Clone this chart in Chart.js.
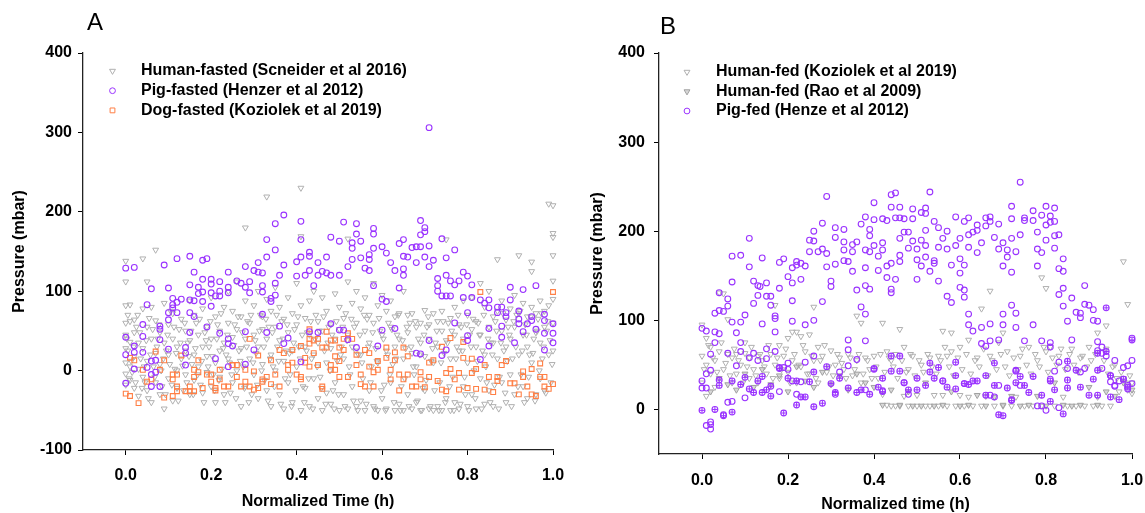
<!DOCTYPE html>
<html>
<head>
<meta charset="utf-8">
<script src="https://cdn.jsdelivr.net/npm/chart.js@4.4.1/dist/chart.umd.min.js"></script>
<style>
  body { margin: 0; background: #fff; }
  #wrapA { position: absolute; left: 0; top: 0; width: 565px; height: 513px; }
  #wrapB { position: absolute; left: 565px; top: 0; width: 580px; height: 513px; }
</style>
</head>
<body>
<div id="wrapA"><canvas id="chartA" width="565" height="513"></canvas></div>
<div id="wrapB"><canvas id="chartB" width="580" height="513"></canvas></div>
<script>
// ---- data ([normalized time, pressure mbar]) ----
const xTicks = [0, 0.2, 0.4, 0.6, 0.8, 1.0];
const yTicksA = [-100, 0, 100, 200, 300, 400];
const yTicksB = [0, 100, 200, 300, 400];

const labelsA = ['Human-fasted (Scneider et al 2016)', 'Pig-fasted (Henzer et al 2012)', 'Dog-fasted (Koziolek et al 2019)'];
const labelsB = ['Human-fed (Koziolek et al 2019)', 'Human-fed (Rao et al 2009)', 'Pig-fed (Henze et al 2012)'];

const humanFasted = [
  [0.00,138],[0.00,112],[0.00,82],[0.00,60],[0.00,45],[0.00,28],[0.00,10],[0.00,-4],[0.00,-18],[0.01,83],[0.01,62],[0.01,36],[0.01,5],[0.01,-12],
  [0.02,64],[0.02,48],[0.02,18],[0.02,-22],[0.03,35],[0.03,2],[0.03,-32],[0.04,141],[0.04,78],[0.04,28],[0.04,-8],[0.05,112],[0.05,55],[0.05,12],
  [0.05,-25],[0.06,80],[0.06,40],[0.06,-40],[0.07,152],[0.07,63],[0.07,22],[0.07,-15],[0.08,48],[0.08,8],[0.08,-30],[0.09,85],[0.09,35],[0.09,-48],
  [0.10,58],[0.10,20],[0.10,-10],[0.11,72],[0.11,40],[0.11,-38],[0.12,30],[0.12,0],[0.12,-22],[0.13,65],[0.13,15],[0.14,50],[0.14,25],[0.14,-5],
  [0.15,88],[0.15,38],[0.15,-30],[0.16,70],[0.16,20],[0.16,-12],[0.17,45],[0.17,5],[0.18,78],[0.18,30],[0.18,-28],[0.19,55],[0.19,18],[0.19,-2],
  [0.20,92],[0.20,40],[0.20,-20],[0.21,68],[0.21,10],[0.21,-40],[0.22,50],[0.22,25],[0.22,-8],[0.23,80],[0.23,35],[0.23,-30],[0.24,100],[0.24,60],
  [0.24,15],[0.25,75],[0.25,42],[0.25,-15],[0.26,112],[0.26,52],[0.26,0],[0.27,68],[0.27,28],[0.27,-45],[0.28,180],[0.28,88],[0.28,40],[0.28,-20],
  [0.29,60],[0.29,15],[0.30,82],[0.30,45],[0.30,-5],[0.31,100],[0.31,30],[0.31,-35],[0.32,68],[0.32,52],[0.32,8],[0.33,219],[0.33,90],[0.33,40],
  [0.33,-25],[0.34,75],[0.34,20],[0.34,-45],[0.35,105],[0.35,55],[0.35,0],[0.36,80],[0.36,38],[0.36,-30],[0.37,65],[0.37,12],[0.37,-48],[0.38,92],
  [0.38,48],[0.38,-15],[0.39,72],[0.39,25],[0.39,-40],[0.40,110],[0.40,58],[0.40,5],[0.41,230],[0.41,169],[0.41,82],[0.41,-50],[0.42,66],[0.42,30],
  [0.42,-22],[0.43,88],[0.43,45],[0.43,-45],[0.44,100],[0.44,20],[0.44,-10],[0.45,62],[0.45,35],[0.45,-35],[0.46,92],[0.46,50],[0.46,-50],[0.47,75],
  [0.47,10],[0.47,-28],[0.48,58],[0.48,28],[0.48,-42],[0.49,97],[0.49,40],[0.49,-15],[0.50,80],[0.50,52],[0.50,-50],[0.51,66],[0.51,15],[0.51,-30],
  [0.52,166],[0.52,112],[0.52,45],[0.52,-48],[0.53,85],[0.53,30],[0.53,-20],[0.54,100],[0.54,60],[0.54,-45],[0.55,78],[0.55,20],[0.55,-38],[0.56,92],
  [0.56,50],[0.56,-50],[0.57,70],[0.57,35],[0.57,-25],[0.58,110],[0.58,60],[0.58,-45],[0.59,82],[0.59,10],[0.59,-50],[0.60,95],[0.60,45],[0.60,-35],
  [0.61,75],[0.61,25],[0.61,-48],[0.62,88],[0.62,55],[0.62,-15],[0.63,68],[0.63,30],[0.63,-50],[0.64,72],[0.64,40],[0.64,-42],[0.65,100],[0.65,15],
  [0.65,-50],[0.66,70],[0.66,48],[0.66,-30],[0.67,72],[0.67,22],[0.67,-48],[0.68,55],[0.68,5],[0.68,-40],[0.69,60],[0.69,35],[0.69,-50],[0.70,76],
  [0.70,18],[0.70,-25],[0.71,58],[0.71,40],[0.71,-48],[0.72,72],[0.72,10],[0.72,-50],[0.73,62],[0.73,30],[0.73,-45],[0.74,75],[0.74,50],[0.74,-50],
  [0.75,165],[0.75,38],[0.75,-35],[0.76,66],[0.76,15],[0.76,-50],[0.77,80],[0.77,45],[0.77,-40],[0.78,58],[0.78,25],[0.78,-48],[0.79,88],[0.79,40],
  [0.79,-20],[0.80,70],[0.80,10],[0.80,-45],[0.81,92],[0.81,52],[0.81,-30],[0.82,62],[0.82,30],[0.82,-48],[0.83,110],[0.83,45],[0.83,-10],[0.84,80],
  [0.84,20],[0.84,-42],[0.85,100],[0.85,55],[0.85,-25],[0.86,68],[0.86,35],[0.86,-45],[0.87,140],[0.87,75],[0.87,15],[0.88,88],[0.88,50],[0.88,-15],
  [0.89,64],[0.89,30],[0.89,-40],[0.90,78],[0.90,40],[0.90,-5],[0.91,95],[0.91,55],[0.91,-30],[0.92,145],[0.92,72],[0.92,20],[0.93,85],[0.93,45],
  [0.93,-20],[0.94,68],[0.94,30],[0.94,-35],[0.95,137],[0.95,125],[0.95,80],[0.95,10],[0.96,72],[0.96,48],[0.96,-30],[0.97,88],[0.97,35],[0.97,-10],
  [0.98,75],[0.98,55],[0.98,-25],[0.99,210],[0.99,82],[0.99,20],[1.00,208],[1.00,173],[1.00,168],[1.00,145],[1.00,113],[1.00,90],[1.00,60],[1.00,25],
  [0.005,70],[0.005,25],[0.015,-2],[0.025,55],[0.035,15],[0.045,-15],[0.055,66],[0.065,5],[0.075,40],[0.085,-20],[0.095,25],[0.105,75],[0.115,2],
  [0.125,52],[0.135,-25],[0.145,35],[0.155,8],[0.165,60],[0.175,-18],[0.185,48],[0.195,30],[0.205,-5],[0.215,58],[0.225,2],[0.235,20],[0.245,-28],
  [0.255,58],[0.265,25],[0.275,5],[0.285,62],[0.295,-30],[0.305,22],[0.315,70],[0.325,-12],[0.335,55],[0.345,5],[0.355,30],[0.365,62],[0.375,25],
  [0.385,-5],[0.395,52],[0.405,30],[0.415,-20],[0.425,48],[0.435,15],[0.445,70],[0.455,-8],[0.465,25],[0.475,55],[0.485,-25],[0.495,12],[0.505,30],
  [0.515,72],[0.525,-5],[0.535,55],[0.545,20],[0.555,-10],[0.565,65],[0.575,5],[0.585,28],[0.595,50],[0.605,-18],[0.615,60],[0.625,8],[0.635,45],
  [0.645,-20],[0.655,28],[0.665,60],[0.675,-5],[0.685,40],[0.695,-22],[0.705,55],[0.715,12],[0.725,35],[0.735,-15],[0.745,22],[0.755,60],[0.765,-8],
  [0.775,30],[0.785,55],[0.795,-30],[0.805,45],[0.815,0],[0.825,60],[0.835,25],[0.845,-15],[0.855,35],[0.865,62],[0.875,-8],[0.885,25],[0.895,55],
  [0.905,15],[0.915,70],[0.925,-5],[0.935,58],[0.945,20],[0.955,40],[0.965,65],[0.975,15],[0.985,50],[0.995,-15],
  [0.003,40],[0.008,-10],[0.013,12],[0.018,30],[0.023,-15],[0.028,70],[0.033,48],[0.038,-22],[0.043,5],[0.048,38],[0.053,-35],[0.058,20],[0.063,52],
  [0.068,-8],[0.073,30],[0.078,58],[0.083,0],[0.088,15],[0.093,-30],[0.098,45],[0.103,8],[0.108,-18],[0.113,55],[0.118,22],[0.123,-38],[0.128,35],
  [0.133,6],[0.138,60],[0.143,-15],[0.148,18],[0.153,50],[0.158,-30],[0.163,28],[0.168,-5],[0.173,65],[0.178,12],[0.183,-40],[0.188,38],[0.193,5],
  [0.198,62],[0.203,18],[0.208,-25],[0.213,40],[0.218,-12],[0.223,72],[0.228,28],[0.233,-40],[0.238,45],[0.243,10],[0.248,-5],[0.253,32],[0.258,-35],
  [0.263,68],[0.268,12],[0.273,48],[0.278,-22],[0.283,30],[0.288,-40],[0.293,70],[0.298,10],[0.303,38],[0.308,-18],[0.313,50],[0.318,0],[0.323,30],
  [0.328,65],[0.333,-38],[0.338,15],[0.343,48],[0.348,-20],[0.353,70],[0.358,12],[0.363,-42],[0.368,40],[0.373,-10],[0.378,58],[0.383,22],[0.388,-45],
  [0.393,35],[0.398,-25],[0.403,68],[0.408,15],[0.413,45],[0.418,-40],[0.423,25],[0.428,-10],[0.433,62],[0.438,-48],[0.443,40],[0.448,5],[0.453,50],
  [0.458,-22],[0.463,68],[0.468,-42],[0.473,35],[0.478,0],[0.483,45],[0.488,-48],[0.493,62],[0.498,-30],[0.503,20],[0.508,55],[0.513,-45],[0.518,38],
  [0.523,5],[0.528,65],[0.533,-38],[0.538,25],[0.543,-50],[0.548,45],[0.553,10],[0.558,70],[0.563,-42],[0.568,30],[0.573,-15],[0.578,48],[0.583,-48],
  [0.588,12],[0.593,66],[0.598,-25],[0.603,40],[0.608,-50],[0.613,20],[0.618,-5],[0.623,52],[0.628,-40],[0.633,15],[0.638,70],[0.643,-50],[0.648,38],
  [0.653,-10],[0.658,55],[0.663,-45],[0.668,30],[0.673,5],[0.678,62],[0.683,-38],[0.688,20],[0.693,-50],[0.698,45],[0.703,-12],[0.708,68],[0.713,-45],
  [0.718,28],[0.723,-25],[0.728,50],[0.733,-50],[0.738,10],[0.743,62],[0.748,-40],[0.753,35],[0.758,-20],[0.763,50],[0.768,-50],[0.773,15],[0.778,70],
  [0.783,-42],[0.788,25],[0.793,-8],[0.798,58],[0.803,-50],[0.808,30],[0.813,65],[0.818,-35],[0.823,12],[0.828,45],[0.833,-48],[0.838,70],[0.843,5],
  [0.848,40],[0.853,-40],[0.858,20],[0.863,-18],[0.868,50],[0.873,-48],[0.878,35],[0.883,72],[0.888,-28],[0.893,12],[0.898,45],[0.903,-45],[0.908,62],
  [0.913,30],[0.918,-20],[0.923,75],[0.928,25],[0.933,-40],[0.938,45],[0.943,-8],[0.948,68],[0.953,22],[0.958,-38],[0.963,50],[0.968,0],[0.973,72],
  [0.978,30],[0.983,-28],[0.988,62],[0.993,38],[0.998,8]
];

const pigFasted = [
  [0.00,129],[0.02,130],[0.00,42],[0.00,20],[0.00,-16],[0.02,31],[0.02,23],[0.02,2],[0.04,43],[0.04,23],[0.04,58],[0.05,83],[0.06,103],[0.06,12],
  [0.05,4],[0.06,-5],[0.06,-20],[0.07,-2],[0.07,13],[0.08,39],[0.08,52],[0.08,56],[0.09,133],[0.10,27],[0.08,-20],[0.10,104],[0.10,73],[0.10,64],
  [0.11,79],[0.11,91],[0.11,83],[0.12,73],[0.12,141],[0.12,86],[0.13,90],[0.14,29],[0.14,22],[0.14,7],[0.15,89],[0.15,108],[0.15,144],[0.15,48],
  [0.15,73],[0.16,88],[0.16,68],[0.16,124],[0.17,105],[0.17,97],[0.18,115],[0.18,99],[0.18,139],[0.19,141],[0.18,87],[0.19,55],[0.20,81],[0.20,98],
  [0.20,109],[0.20,115],[0.21,94],[0.21,15],[0.22,47],[0.22,94],[0.22,100],[0.22,112],[0.24,98],[0.24,105],[0.24,40],[0.24,34],[0.24,124],[0.25,31],
  [0.24,5],[0.26,113],[0.27,110],[0.28,105],[0.28,49],[0.28,8],[0.28,131],[0.29,98],[0.29,112],[0.30,126],[0.30,26],[0.31,136],[0.31,124],[0.32,123],
  [0.32,107],[0.32,99],[0.32,71],[0.33,48],[0.33,143],[0.33,165],[0.34,91],[0.34,87],[0.35,152],[0.35,185],[0.35,110],[0.35,95],[0.36,120],[0.36,56],
  [0.37,196],[0.37,34],[0.37,133],[0.38,41],[0.40,137],[0.40,119],[0.41,188],[0.41,165],[0.41,11],[0.41,143],[0.42,120],[0.43,126],[0.43,49],[0.43,149],
  [0.43,144],[0.44,107],[0.45,136],[0.45,120],[0.45,48],[0.46,125],[0.47,143],[0.47,123],[0.48,120],[0.48,168],[0.48,59],[0.50,51],[0.50,120],[0.50,163],
  [0.51,187],[0.51,51],[0.52,131],[0.52,39],[0.53,161],[0.53,154],[0.53,140],[0.54,172],[0.54,185],[0.54,29],[0.55,142],[0.55,163],[0.56,129],[0.57,146],
  [0.57,126],[0.57,140],[0.58,107],[0.58,154],[0.58,172],[0.58,179],[0.59,31],[0.60,156],[0.60,51],[0.60,90],[0.61,148],[0.61,87],[0.62,136],[0.63,126],
  [0.63,53],[0.64,104],[0.64,160],[0.65,165],[0.65,128],[0.65,120],[0.65,144],[0.66,143],[0.68,136],[0.67,155],[0.68,22],[0.68,156],[0.69,21],[0.69,171],
  [0.69,156],[0.69,189],[0.70,180],[0.70,175],[0.70,143],[0.71,157],[0.71,131],[0.71,38],[0.71,306],[0.72,139],[0.73,116],[0.73,107],[0.73,100],[0.74,94],
  [0.74,19],[0.74,166],[0.75,142],[0.75,94],[0.75,120],[0.75,26],[0.76,113],[0.76,94],[0.77,60],[0.77,152],[0.77,108],[0.78,113],[0.79,124],[0.79,92],
  [0.80,73],[0.80,119],[0.80,38],[0.80,44],[0.81,108],[0.81,92],[0.83,14],[0.83,89],[0.84,85],[0.85,53],[0.85,89],[0.85,79],[0.85,31],[0.87,80],
  [0.87,73],[0.88,80],[0.88,42],[0.88,56],[0.89,68],[0.89,73],[0.90,105],[0.90,89],[0.91,35],[0.92,65],[0.92,59],[0.92,75],[0.93,102],[0.93,49],
  [0.94,59],[0.95,68],[0.95,63],[0.96,107],[0.96,52],[0.98,63],[0.98,26],[0.98,71],[0.98,47],[1.00,59],[1.00,47],[1.00,35]
];

const dogFasted = [
  [0.00,-29],[0.01,-32],[0.01,16],[0.02,13],[0.03,-41],[0.04,1],[0.05,-14],[0.06,-11],[0.07,24],[0.08,1],[0.09,-34],[0.09,13],[0.11,-32],[0.11,-5],
  [0.11,-11],[0.12,-5],[0.12,-20],[0.12,-26],[0.13,19],[0.14,-26],[0.15,-26],[0.15,-20],[0.16,-26],[0.16,1],[0.16,-8],[0.17,-2],[0.17,13],[0.18,-22],
  [0.19,-5],[0.20,-5],[0.20,-14],[0.21,-22],[0.21,-25],[0.22,1],[0.22,-11],[0.23,-20],[0.24,-20],[0.25,7],[0.25,7],[0.26,7],[0.26,-8],[0.27,-20],
  [0.28,1],[0.28,-14],[0.29,40],[0.29,-20],[0.30,-1],[0.30,-24],[0.31,19],[0.31,-22],[0.32,-11],[0.32,-14],[0.33,-8],[0.34,-17],[0.34,13],[0.35,-5],
  [0.36,-20],[0.36,26],[0.37,22],[0.38,7],[0.38,1],[0.39,26],[0.39,10],[0.40,-5],[0.41,-8],[0.41,31],[0.41,-11],[0.42,16],[0.42,10],[0.43,5],
  [0.43,40],[0.43,34],[0.43,52],[0.44,38],[0.44,22],[0.45,40],[0.45,7],[0.46,-23],[0.46,29],[0.46,-20],[0.47,49],[0.47,29],[0.48,38],[0.48,7],
  [0.48,1],[0.49,18],[0.49,38],[0.49,1],[0.50,-8],[0.50,29],[0.50,12],[0.51,40],[0.51,26],[0.52,-8],[0.52,47],[0.53,40],[0.54,20],[0.54,7],
  [0.55,-17],[0.55,-5],[0.56,-20],[0.56,26],[0.57,5],[0.57,22],[0.58,-2],[0.58,-20],[0.59,1],[0.59,12],[0.61,16],[0.61,29],[0.62,1],[0.62,-11],
  [0.63,13],[0.63,23],[0.64,-5],[0.64,-25],[0.65,-11],[0.65,29],[0.66,-5],[0.66,18],[0.67,-20],[0.68,-20],[0.69,-2],[0.69,-11],[0.70,-21],[0.71,10],
  [0.71,-8],[0.72,13],[0.73,-13],[0.74,30],[0.74,-24],[0.75,-26],[0.75,-3],[0.76,41],[0.76,2],[0.77,-11],[0.78,-24],[0.78,-3],[0.79,36],[0.79,16],
  [0.80,-22],[0.81,15],[0.81,-3],[0.82,2],[0.82,-23],[0.83,99],[0.84,-24],[0.84,7],[0.85,-8],[0.86,-27],[0.87,-8],[0.87,-13],[0.88,7],[0.89,12],
  [0.90,-16],[0.91,-16],[0.92,-30],[0.93,-8],[0.93,-1],[0.94,-20],[0.95,2],[0.95,-30],[0.96,-32],[0.97,-8],[0.97,9],[0.98,-20],[0.98,-8],[0.99,-23],
  [1.00,99],[1.00,-17]
];

const humanFedKoziolek = [
  [0.00,95],[0.00,60],[0.00,30],[0.01,80],[0.01,50],[0.01,15],[0.02,70],[0.02,40],[0.03,55],[0.03,25],[0.04,131],[0.04,65],[0.05,130],[0.05,45],
  [0.06,101],[0.06,62],[0.07,58],[0.07,30],[0.08,62],[0.08,40],[0.09,50],[0.10,63],[0.10,75],[0.11,58],[0.11,35],[0.12,45],[0.13,60],[0.13,30],
  [0.14,55],[0.15,40],[0.16,62],[0.17,117],[0.17,50],[0.18,72],[0.18,35],[0.19,60],[0.20,80],[0.20,42],[0.21,87],[0.21,55],[0.22,87],[0.22,30],
  [0.23,82],[0.23,48],[0.24,65],[0.25,84],[0.25,40],[0.26,115],[0.26,55],[0.27,70],[0.27,30],[0.28,60],[0.29,42],[0.30,66],[0.31,50],[0.32,58],
  [0.33,45],[0.34,62],[0.35,38],[0.36,105],[0.36,55],[0.37,97],[0.37,30],[0.38,58],[0.39,45],[0.40,60],[0.41,35],[0.42,97],[0.42,17],[0.43,65],
  [0.43,5],[0.44,55],[0.44,4],[0.45,62],[0.45,4],[0.46,90],[0.46,4],[0.47,70],[0.47,15],[0.48,45],[0.48,4],[0.49,60],[0.50,4],[0.50,16],[0.51,50],
  [0.52,4],[0.53,58],[0.53,4],[0.54,16],[0.55,60],[0.55,4],[0.56,88],[0.56,16],[0.57,60],[0.57,4],[0.58,86],[0.58,65],[0.59,4],[0.60,70],[0.60,16],
  [0.61,4],[0.62,78],[0.62,14],[0.63,4],[0.64,58],[0.65,113],[0.65,4],[0.66,15],[0.67,133],[0.67,60],[0.68,4],[0.69,75],[0.70,86],[0.70,4],[0.71,65],
  [0.72,4],[0.73,14],[0.74,60],[0.75,4],[0.76,70],[0.77,4],[0.78,55],[0.79,148],[0.79,4],[0.80,136],[0.80,65],[0.81,70],[0.82,4],[0.83,60],[0.84,14],
  [0.85,4],[0.86,68],[0.87,4],[0.88,58],[0.89,4],[0.90,70],[0.91,4],[0.92,86],[0.92,14],[0.93,4],[0.94,94],[0.94,68],[0.95,4],[0.96,50],[0.97,20],
  [0.98,166],[0.98,35],[0.99,118],[0.99,22],[1.00,30],[1.00,18],
  [0.005,45],[0.015,72],[0.025,58],[0.035,42],[0.045,75],[0.055,52],[0.065,38],[0.075,68],[0.085,55],[0.095,30],[0.105,48],[0.115,70],[0.125,38],
  [0.135,62],[0.145,48],[0.155,72],[0.165,35],[0.175,58],[0.185,45],[0.195,68],[0.205,30],[0.215,62],[0.225,50],[0.235,72],[0.245,40],[0.255,60],
  [0.265,35],[0.275,55],[0.285,72],[0.295,48],[0.305,38],[0.315,62],[0.325,52],[0.335,35],[0.345,58],[0.355,45],[0.365,62],[0.375,40],[0.385,55],
  [0.395,35],[0.405,48],[0.415,62],[0.425,42],[0.435,58],[0.445,48],[0.455,35],[0.465,55],[0.475,42],[0.485,62],[0.495,38],[0.505,55],[0.515,42],
  [0.525,62],[0.535,48],[0.545,40],[0.555,55],[0.565,70],[0.575,48],[0.585,38],[0.595,58],[0.605,45],[0.615,62],[0.625,40],[0.635,55],[0.645,48],
  [0.655,68],[0.665,38],[0.675,55],[0.685,45],[0.695,62],[0.705,48],[0.715,38],[0.725,58],[0.735,45],[0.745,68],[0.755,50],[0.765,40],[0.775,62],
  [0.785,48],[0.795,70],[0.805,42],[0.815,58],[0.825,50],[0.835,68],[0.845,45],[0.855,62],[0.865,50],[0.875,42],[0.885,60],[0.895,48],[0.905,55],
  [0.915,62],[0.925,45],[0.935,55],[0.945,40],[0.955,48],[0.965,35],[0.975,42],[0.985,30],[0.995,38]
];

const humanFedRao = [
  [0.02,20],[0.04,35],[0.06,28],[0.08,22],[0.10,40],[0.12,25],[0.14,45],[0.16,28],[0.18,38],[0.20,20],[0.22,48],[0.24,32],[0.26,25],[0.28,42],
  [0.30,28],[0.32,38],[0.34,22],[0.36,40],[0.38,30],[0.40,25],[0.42,5],[0.44,22],[0.46,5],[0.48,20],[0.49,4],[0.51,4],[0.52,30],[0.54,4],[0.56,5],
  [0.58,20],[0.60,4],[0.62,5],[0.64,16],[0.66,4],[0.68,14],[0.70,5],[0.72,15],[0.74,4],[0.76,5],[0.78,15],[0.80,4],[0.82,30],[0.84,5],[0.86,4],
  [0.88,5],[0.90,25],[0.92,5],[0.94,20],[0.96,15],[0.98,30],[1.00,22]
];

const pigFed = [
  [0.00,91],[0.01,88],[0.03,87],[0.04,85],[0.02,62],[0.03,75],[0.03,108],[0.04,111],[0.04,131],[0.05,110],[0.06,124],[0.06,116],[0.07,98],[0.07,143],
  [0.07,172],[0.08,86],[0.09,173],[0.09,65],[0.09,75],[0.09,98],[0.10,106],[0.11,192],[0.11,160],[0.12,119],[0.12,144],[0.13,128],[0.13,139],[0.135,138],
  [0.14,96],[0.14,170],[0.15,127],[0.15,142],[0.16,117],[0.16,127],[0.17,105],[0.17,102],[0.17,87],[0.18,136],[0.18,165],[0.19,169],[0.20,149],[0.21,159],
  [0.21,122],[0.21,142],[0.21,99],[0.22,166],[0.22,162],[0.23,146],[0.23,164],[0.24,161],[0.24,95],[0.25,177],[0.25,190],[0.26,189],[0.26,200],[0.26,100],
  [0.27,177],[0.28,209],[0.28,180],[0.29,175],[0.29,239],[0.29,160],[0.30,138],[0.30,144],[0.28,121],[0.31,204],[0.31,193],[0.31,163],[0.33,188],[0.33,202],
  [0.33,179],[0.33,167],[0.34,166],[0.34,78],[0.34,67],[0.35,155],[0.35,177],[0.35,185],[0.36,188],[0.36,134],[0.36,56],[0.37,208],[0.37,115],[0.38,159],
  [0.38,179],[0.38,216],[0.38,107],[0.39,177],[0.38,139],[0.39,135],[0.38,77],[0.39,202],[0.39,195],[0.40,184],[0.40,232],[0.40,213],[0.41,156],[0.41,172],
  [0.42,187],[0.42,179],[0.42,214],[0.43,212],[0.43,161],[0.43,148],[0.44,241],[0.44,227],[0.44,135],[0.44,131],[0.44,164],[0.45,215],[0.45,243],[0.45,146],
  [0.46,227],[0.46,192],[0.46,215],[0.46,173],[0.46,166],[0.47,214],[0.47,199],[0.48,181],[0.48,199],[0.49,189],[0.49,225],[0.49,214],[0.50,180],[0.50,168],
  [0.50,146],[0.51,221],[0.51,161],[0.51,190],[0.52,220],[0.52,184],[0.52,226],[0.52,201],[0.52,171],[0.53,244],[0.53,155],[0.54,167],[0.54,211],[0.54,164],
  [0.55,144],[0.55,182],[0.55,204],[0.56,192],[0.57,200],[0.57,127],[0.57,180],[0.58,162],[0.58,120],[0.59,216],[0.59,184],[0.60,169],[0.60,192],[0.60,153],
  [0.60,137],[0.61,126],[0.61,211],[0.61,134],[0.61,162],[0.62,107],[0.62,196],[0.62,182],[0.62,215],[0.62,95],[0.63,199],[0.63,88],[0.64,176],[0.64,201],
  [0.64,207],[0.65,187],[0.65,74],[0.65,92],[0.66,215],[0.66,71],[0.66,206],[0.67,211],[0.67,216],[0.67,96],[0.67,77],[0.68,193],[0.69,180],[0.69,78],
  [0.69,208],[0.70,187],[0.70,161],[0.70,95],[0.70,107],[0.71,179],[0.71,171],[0.72,117],[0.72,192],[0.72,154],[0.72,228],[0.72,214],[0.73,177],[0.73,108],
  [0.73,92],[0.74,255],[0.74,196],[0.75,77],[0.75,215],[0.75,212],[0.77,212],[0.77,223],[0.77,95],[0.78,180],[0.78,199],[0.78,161],[0.79,77],[0.79,176],
  [0.79,218],[0.80,190],[0.80,228],[0.80,207],[0.81,70],[0.81,217],[0.81,75],[0.81,210],[0.82,195],[0.82,226],[0.82,211],[0.82,181],[0.83,196],[0.83,158],
  [0.83,53],[0.83,129],[0.84,169],[0.84,136],[0.84,116],[0.84,155],[0.85,99],[0.86,125],[0.86,78],[0.87,109],[0.88,103],[0.88,108],[0.89,139],[0.89,118],
  [0.90,117],[0.91,112],[0.91,100],[0.92,99],[0.92,76],[0.93,70],[0.92,66],[0.93,63],[0.94,60],[0.95,38],[0.96,55],[0.98,47],[0.99,49],[1.00,80],
  [1.00,55],[1.00,29],
  [0.00,32],[0.00,24],[0.01,24],[0.01,40],[0.02,44],[0.01,-18],[0.02,-17],[0.02,-22],[0.02,-14],[0.06,8],[0.07,9],[0.05,-6],[0.06,63],[0.08,49],
  [0.10,13],[0.11,58],[0.12,63],[0.13,55],[0.15,57],[0.15,68],[0.17,65],[0.18,20],[0.18,47],[0.19,47],[0.20,52],[0.20,45],[0.21,32],[0.22,17],
  [0.23,31],[0.24,53],[0.26,60],[0.31,17],[0.32,42],[0.34,49],[0.38,22],[0.40,45],[0.42,21],[0.47,30],[0.48,17],[0.56,32],[0.61,29],[0.67,16],
  [0.68,14],[0.69,27],[0.72,11],[0.73,44],[0.74,27],[0.78,4],[0.79,4],[0.80,-1],[0.81,34],[0.82,43],[0.83,2],[0.85,46],[0.88,42],[0.89,46],
  [0.93,46],[0.95,31],[0.96,26],[0.96,27],[0.97,32],[0.98,34],[0.99,27],[0.99,23]
];

const pigFedCrossed = [
  [0.00,-1],[0.03,0],[0.04,27],[0.04,33],[0.05,-7],[0.07,-3],[0.07,32],[0.09,28],[0.10,36],[0.11,23],[0.12,19],[0.13,32],[0.14,37],[0.14,19],
  [0.15,22],[0.16,15],[0.16,26],[0.18,46],[0.19,-4],[0.20,35],[0.22,32],[0.22,5],[0.23,14],[0.24,14],[0.25,31],[0.26,42],[0.26,3],[0.28,7],
  [0.29,48],[0.30,29],[0.31,19],[0.32,35],[0.34,24],[0.36,19],[0.37,22],[0.39,17],[0.40,46],[0.41,25],[0.42,20],[0.42,35],[0.44,60],[0.44,43],
  [0.46,60],[0.46,43],[0.47,30],[0.48,22],[0.50,22],[0.50,35],[0.53,52],[0.53,42],[0.52,27],[0.54,35],[0.55,47],[0.56,32],[0.57,25],[0.59,23],
  [0.59,38],[0.59,53],[0.61,29],[0.62,28],[0.63,32],[0.64,32],[0.66,38],[0.66,16],[0.68,52],[0.68,27],[0.69,-6],[0.70,-7],[0.71,24],[0.72,10],
  [0.73,30],[0.73,43],[0.74,37],[0.75,27],[0.76,19],[0.77,37],[0.79,16],[0.81,9],[0.81,32],[0.82,22],[0.84,-5],[0.85,24],[0.85,33],[0.85,54],
  [0.87,44],[0.88,25],[0.91,34],[0.90,16],[0.92,16],[0.92,44],[0.92,63],[0.94,65],[0.94,114],[0.95,14],[0.95,38],[0.97,11],[0.98,34],[0.99,25],
  [1.00,78]
];

// ---- styling ----
const GRAY = '#b0b0b0';
const GRAY_DARK = '#a0a0a0';
const PURPLE = '#9a33ff';
const ORANGE = '#ff7f45';
const FONT = "'Liberation Sans', Arial, Helvetica, sans-serif";

function pts(pairs) {
  return pairs.map(p => ({ x: p[0], y: p[1] }));
}

function tri(label, pairs, color, fill, order) {
  return {
    label: label, data: pts(pairs), order: order, clip: false,
    pointStyle: 'triangle', pointRotation: 180, pointRadius: 3.4, pointHoverRadius: 3.4,
    borderColor: color, backgroundColor: fill, pointBorderWidth: 1
  };
}

function circ(label, pairs, order) {
  return {
    label: label, data: pts(pairs), order: order, clip: false,
    pointStyle: 'circle', pointRadius: 2.9, pointHoverRadius: 2.9,
    borderColor: PURPLE, backgroundColor: 'rgba(0,0,0,0)', pointBorderWidth: 1.1
  };
}

// draws the panel letter and the legend inside the plot area
const panelDecor = {
  id: 'panelDecor',
  afterDraw(chart, args, opts) {
    const ctx = chart.ctx;
    ctx.save();
    ctx.fillStyle = '#000';
    ctx.font = '24px ' + FONT;
    ctx.textAlign = 'left';
    ctx.textBaseline = 'middle';
    ctx.fillText(opts.letter, opts.letterX, opts.letterY);

    ctx.font = 'bold 16px ' + FONT;
    opts.items.forEach((idx, i) => {
      const ds = chart.data.datasets[idx];
      const y = opts.legendY + i * opts.rowGap;
      ctx.strokeStyle = ds.borderColor;
      ctx.fillStyle = ds.backgroundColor;
      ctx.lineWidth = 1;
      Chart.helpers.drawPoint(ctx, {
        pointStyle: ds.pointStyle, rotation: ds.pointRotation || 0,
        radius: ds.pointRadius, borderWidth: 1
      }, opts.markerX, y);
      ctx.fillStyle = '#000';
      ctx.fillText(ds.label, opts.textX, y);
    });
    ctx.restore();
  }
};

function makeOptions(yMin, yTicks, geom) {
  return {
    responsive: false,
    animation: false,
    events: [],
    layout: { padding: { top: 53, right: geom.padRight, left: 0, bottom: 0 } },
    plugins: {
      legend: { display: false },
      tooltip: { enabled: false },
      panelDecor: geom.decor
    },
    scales: {
      x: {
        type: 'linear', min: -0.1, max: 1.0,
        afterBuildTicks: s => { s.ticks = xTicks.map(v => ({ value: v })); },
        afterFit: s => { s.height = geom.xHeight; s.paddingLeft = 0; s.paddingRight = 0; },
        grid: { drawOnChartArea: false, drawTicks: true, tickLength: 5, color: '#000' },
        border: { display: true, color: '#222', width: 1.3 },
        ticks: {
          color: '#000', padding: geom.xTickPad, maxRotation: 0,
          font: { family: FONT, size: 16, weight: 'bold' },
          callback: v => Number(v).toFixed(1)
        },
        title: {
          display: true, text: geom.xTitle, color: '#000',
          font: { family: FONT, size: 16, weight: 'bold', lineHeight: 1 },
          padding: { top: 0, bottom: geom.xTitlePad }
        }
      },
      y: {
        type: 'linear', min: yMin, max: 400,
        afterBuildTicks: s => { s.ticks = yTicks.map(v => ({ value: v })); },
        afterFit: s => { s.width = geom.yWidth; s.paddingTop = 0; s.paddingBottom = 0; },
        grid: { drawOnChartArea: false, drawTicks: true, tickLength: 5, color: '#000' },
        border: { display: true, color: '#222', width: 1.3 },
        ticks: {
          color: '#000', padding: geom.yTickPad,
          font: { family: FONT, size: 16, weight: 'bold' }
        },
        title: {
          display: true, text: 'Pressure (mbar)', color: '#000',
          font: { family: FONT, size: 16, weight: 'bold', lineHeight: 1 },
          padding: { top: geom.yTitlePad, bottom: 0 }
        }
      }
    }
  };
}

new Chart(document.getElementById('chartA'), {
  type: 'scatter',
  data: {
    datasets: [
      tri(labelsA[0], humanFasted, GRAY, 'rgba(0,0,0,0)', 3),
      circ(labelsA[1], pigFasted, 1),
      {
        label: labelsA[2], data: pts(dogFasted), order: 2, clip: false,
        pointStyle: 'rect', pointRadius: 3.4, pointHoverRadius: 3.4,
        borderColor: ORANGE, backgroundColor: 'rgba(0,0,0,0)', pointBorderWidth: 1.1
      }
    ]
  },
  options: makeOptions(-100, yTicksA, {
    padRight: 12, xHeight: 63, yWidth: 83, xTickPad: 11, yTickPad: 6,
    xTitle: 'Normalized Time (h)', xTitlePad: 3, yTitlePad: 12,
    decor: { letter: 'A', letterX: 87, letterY: 23, items: [0, 1, 2],
             markerX: 112.5, textX: 141, legendY: 71, rowGap: 19.7 }
  }),
  plugins: [panelDecor]
});

new Chart(document.getElementById('chartB'), {
  type: 'scatter',
  data: {
    datasets: [
      tri(labelsB[0], humanFedKoziolek, GRAY, 'rgba(0,0,0,0)', 4),
      tri(labelsB[1], humanFedRao, GRAY_DARK, 'rgba(200,200,200,0.7)', 3),
      circ(labelsB[2], pigFed, 1),
      circ('Pig-fed (crossed)', pigFedCrossed, 2),
      {
        label: 'cross', data: pts(pigFedCrossed), order: 0, clip: false,
        pointStyle: 'cross', pointRadius: 2.9, pointHoverRadius: 2.9,
        borderColor: PURPLE, pointBorderWidth: 1
      }
    ]
  },
  options: makeOptions(-50, yTicksB, {
    padRight: 13, xHeight: 59, yWidth: 94, xTickPad: 12, yTickPad: 9,
    xTitle: 'Normalized time (h)', xTitlePad: 0, yTitlePad: 25,
    decor: { letter: 'B', letterX: 95, letterY: 27, items: [0, 1, 2],
             markerX: 122, textX: 151, legendY: 72, rowGap: 19.5 }
  }),
  plugins: [panelDecor]
});
</script>
</body>
</html>
